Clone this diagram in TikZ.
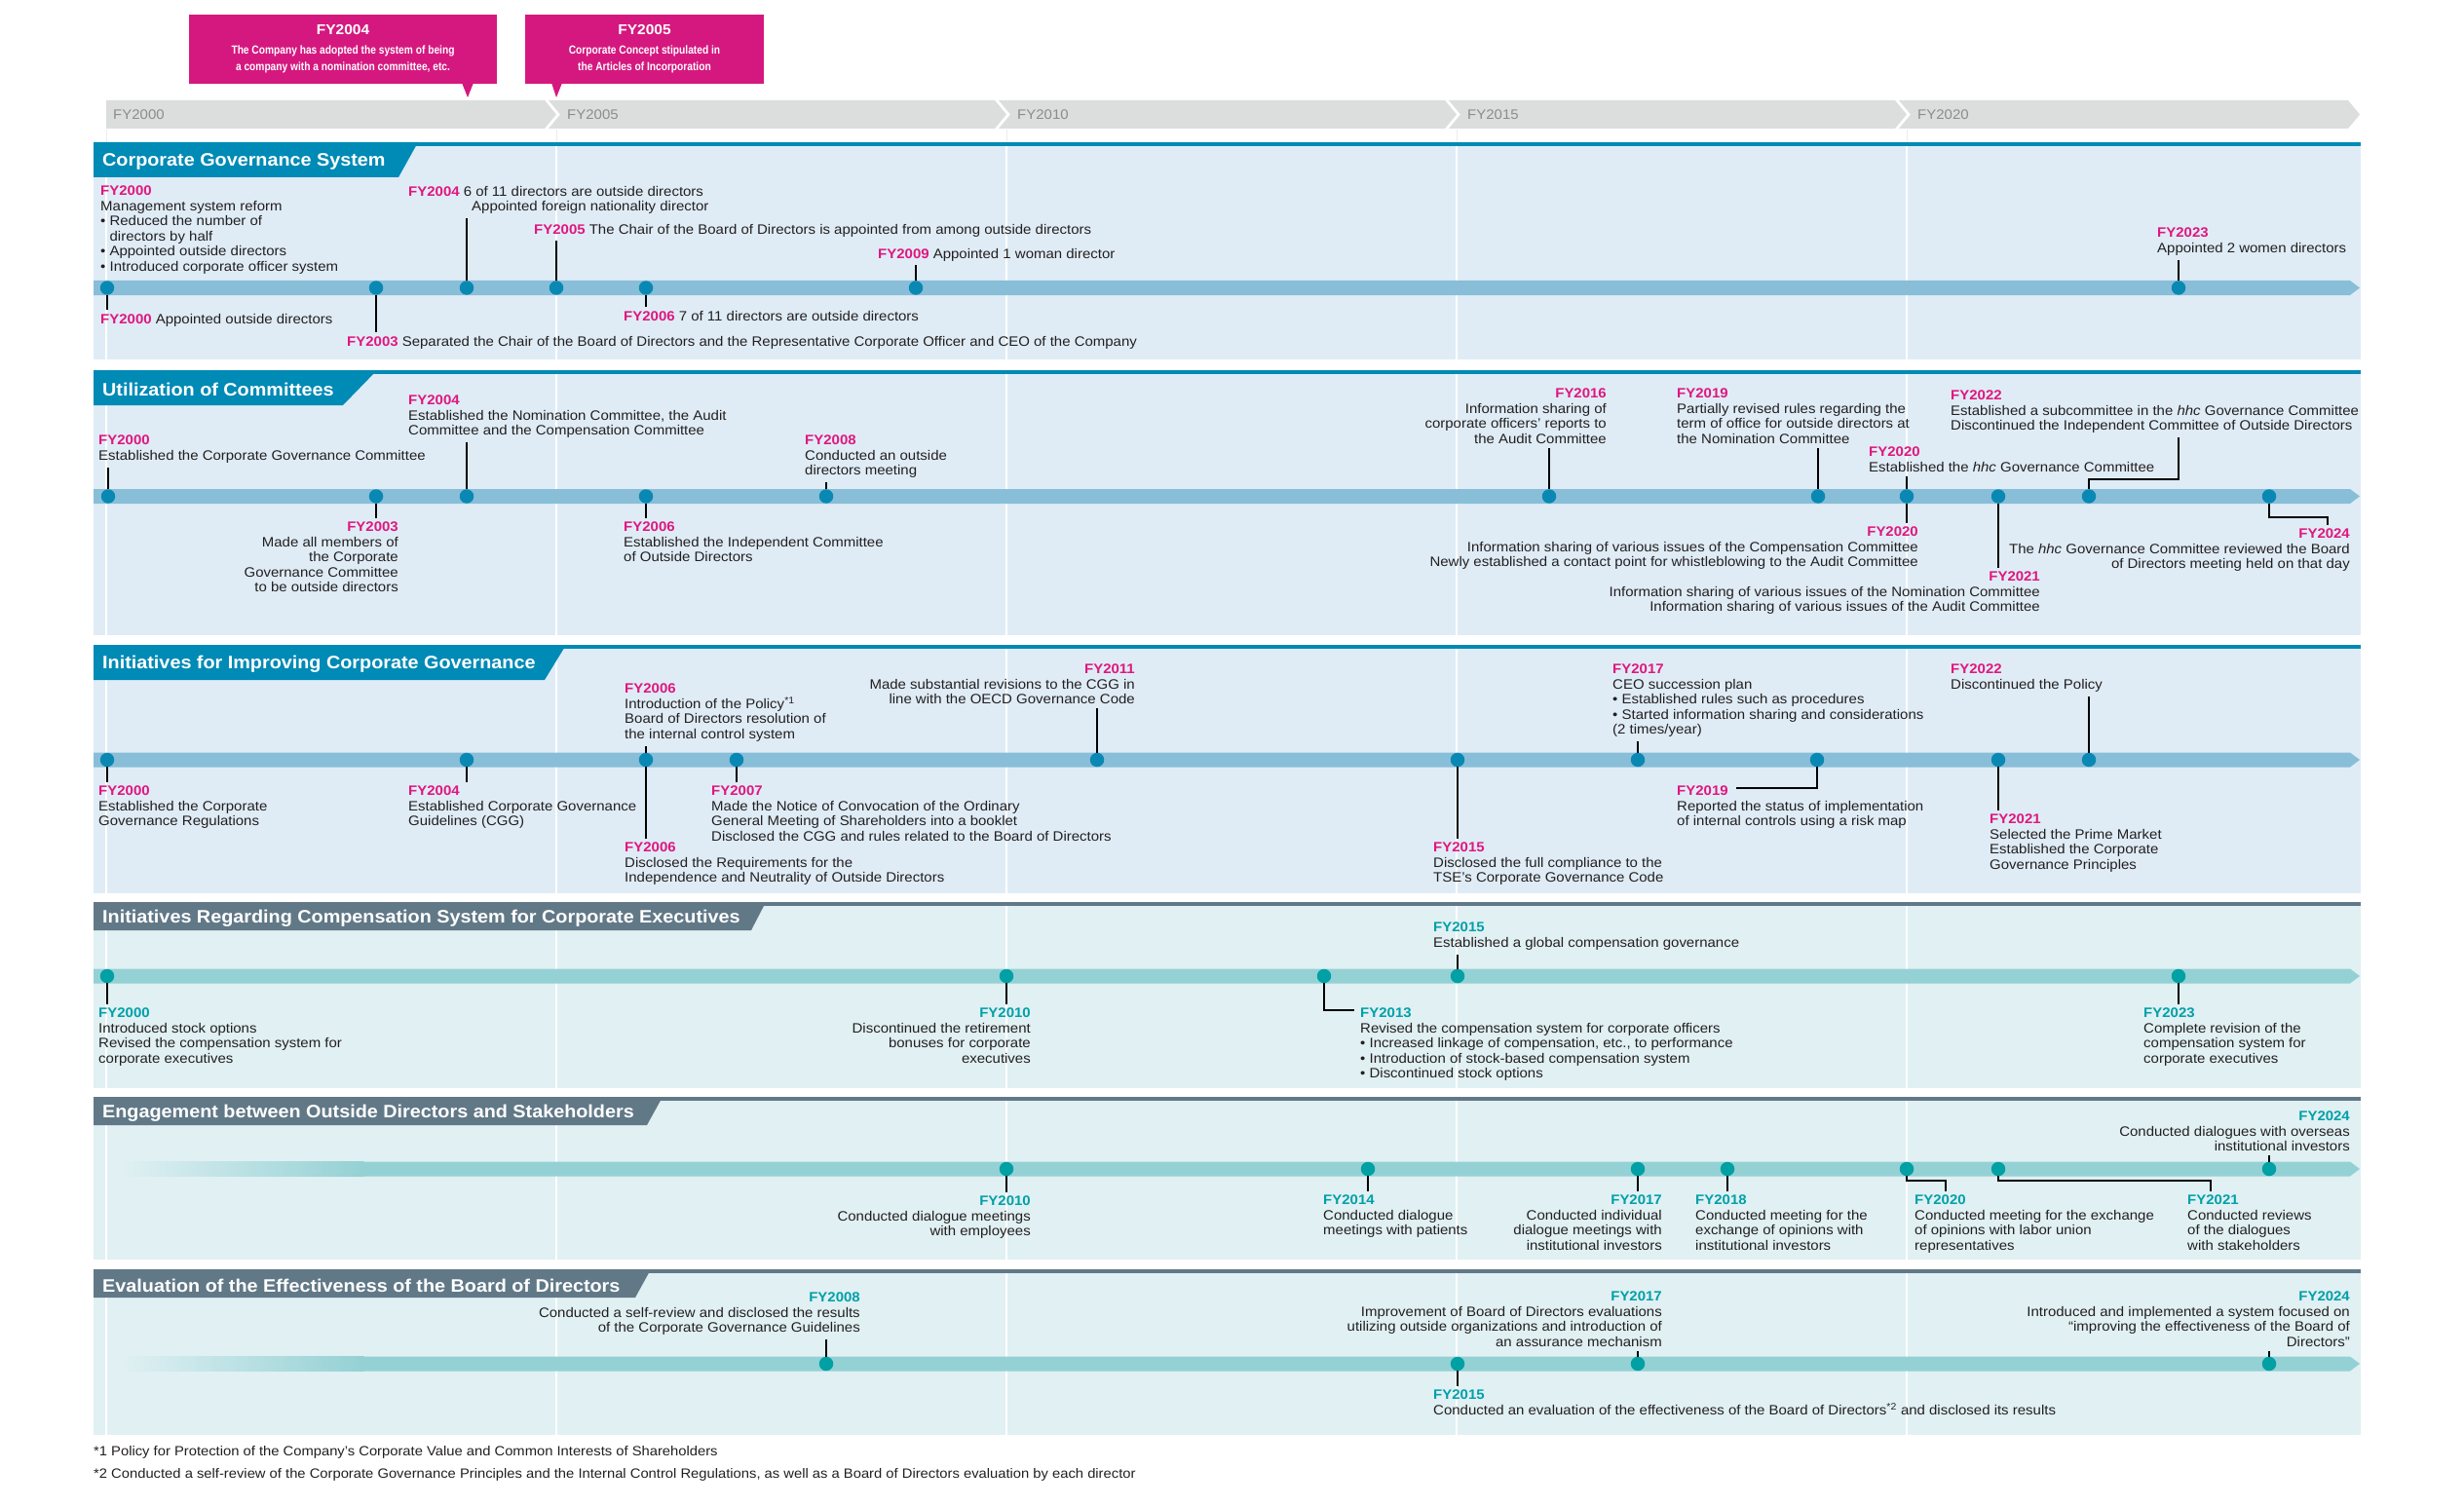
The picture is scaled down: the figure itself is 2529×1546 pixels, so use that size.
\documentclass[tikz,border=0pt]{standalone}
\usepackage{fontspec}
\setmainfont{Liberation Sans}[FakeStretch=1.07]
\newfontfamily\condfont[FakeStretch=0.85]{Liberation Sans}

\definecolor{fymag}{HTML}{E0177F}
\definecolor{callmag}{HTML}{D5187F}
\definecolor{hdblue}{HTML}{008AB6}
\definecolor{bgblue}{HTML}{DFECF6}
\definecolor{barblue}{HTML}{88BED8}
\definecolor{dotblue}{HTML}{0A88B4}
\definecolor{hdslate}{HTML}{617887}
\definecolor{bgteal}{HTML}{E0F0F3}
\definecolor{barteal}{HTML}{94D1D4}
\definecolor{dotteal}{HTML}{00A0A4}
\definecolor{fyteal}{HTML}{00A0A8}
\definecolor{yrgray}{HTML}{DCDDDD}
\definecolor{yrtext}{HTML}{8C8C8C}
\definecolor{txt}{HTML}{231F20}

\newcommand{\fy}[1]{\textcolor{fymag}{\bfseries #1}}
\newcommand{\fyt}[1]{\textcolor{fyteal}{\bfseries #1}}

\tikzset{
    dotb/.style={circle, fill=dotblue, inner sep=0pt, minimum size=14.5pt},
    dott/.style={circle, fill=dotteal, inner sep=0pt, minimum size=14.5pt},
    evl/.style={inner sep=0pt, anchor=north west, align=left, text=txt, font=\fontsize{14}{15.5}\selectfont},
    evr/.style={evl, anchor=north east, align=right},
    foot/.style={evl, font=\fontsize{13.8}{15}\selectfont},
    lnk/.style={line width=1.2pt, shorten >=4pt},
    ttl/.style={anchor=west, inner sep=0pt, text=white},
    yrlbl/.style={anchor=west, inner sep=0pt, text=yrtext, font=\fontsize{14}{16}\selectfont},
    callout/.style={fill=callmag, text=white, inner sep=0pt, align=center, minimum height=71pt,
                    font=\condfont\bfseries\fontsize{12}{17}\selectfont}
}

\begin{document}
\begin{tikzpicture}
  [
    x                       = 1pt,
    y                       = -1pt,
  ]
  \useasboundingbox (0,0) rectangle (2529,1546);

  % callouts on top
  \node [callout, minimum width=316pt] (co04) at (352,50.5)
    {\rmfamily\bfseries\fontsize{14.5}{16}\selectfont FY2004\\[3pt]The Company has adopted the system of being\\a company with a nomination committee, etc.};
  \node [callout, minimum width=245pt] (co05) at (661.5,50.5)
    {\rmfamily\bfseries\fontsize{14.5}{16}\selectfont FY2005\\[3pt]Corporate Concept stipulated in\\the Articles of Incorporation};
  \fill [callmag] (474,85) -- (486,85) -- (480,100) -- cycle;
  \fill [callmag] (566,85) -- (577,85) -- (571,100) -- cycle;

  % year bar
  \foreach \xl/\xm/\xe/\yr in {109/109/571/2000, 563/575/1033/2005, 1025/1037/1495/2010, 1487/1499/1957/2015, 1949/1961/2422/2020} {
    \fill [yrgray] (\xl,103) -- (\xe-12,103) -- (\xe,117.5) -- (\xe-12,132) -- (\xl,132) -- (\xm,117.5) -- cycle;
    \node [yrlbl] (yr\yr) at (\xm+7,118) {FY\yr};
  }
  \foreach \gx in {109,571,1033,1495,1957}
    \draw [gray!15, line width=1pt] (\gx,133) -- (\gx,146);

  % panels
  \foreach \yt/\ytb/\yb/\xa/\xb/\hd/\bg/\nm/\tsz/\ttl in {
      146/182/369/429/409/hdblue/bgblue/cgs/18.5/Corporate Governance System,
      380/416/652/387/352/hdblue/bgblue/uoc/18.5/Utilization of Committees,
      662/698/917/581/559/hdblue/bgblue/icg/18.5/Initiatives for Improving Corporate Governance,
      926/955/1117/786/771/hdslate/bgteal/rcs/18.5/Initiatives Regarding Compensation System for Corporate Executives,
      1126/1155/1293/680/664/hdslate/bgteal/eod/18.5/Engagement between Outside Directors and Stakeholders,
      1303/1332/1473/668/652/hdslate/bgteal/ebd/18.5/Evaluation of the Effectiveness of the Board of Directors} {
    \fill [\bg] (96,\yt) rectangle (2423,\yb);
    \foreach \gx in {109,571,1033,1495,1957}
      \draw [white, line width=1.2pt] (\gx,\yt) -- (\gx,\yb);
    \fill [\hd] (96,\yt) rectangle (2423,\yt+4);
    \fill [\hd] (96,\yt) -- (\xa,\yt) -- (\xb,\ytb) -- (96,\ytb) -- cycle;
    \node [ttl, font=\fontsize{\tsz}{20}\selectfont\bfseries] (ttl\nm) at (105,{(\yt+4+\ytb)/2}) {\ttl};
  }

  % timelines
  \foreach \c/\xo/\cl in {295.5/96/barblue, 509.5/96/barblue, 780/96/barblue, 1002/96/barteal, 1200/373/barteal, 1400/373/barteal}
    \fill [\cl] (\xo,\c-7.5) -- (2412,\c-7.5) -- (2422,\c) -- (2412,\c+7.5) -- (\xo,\c+7.5) -- cycle;
  \shade [left color=bgteal, right color=barteal] (126,1192.5) rectangle (373.5,1207.5);
  \shade [left color=bgteal, right color=barteal] (126,1392.5) rectangle (373.5,1407.5);

  % Corporate Governance System
  \foreach \n/\x in {00/110,03/386,04/479,05/571,06/663,09/940,23/2236}
    \node [dotb] (a\n) at (\x,295.5) {};
  \node [evl] (a00u) at (103,191) {\fy{FY2000}\\Management system reform\\• Reduced the number of\\\phantom{• }directors by half\\• Appointed outside directors\\• Introduced corporate officer system};
  \node [evl] (a00d) at (103,322) {\fy{FY2000} Appointed outside directors};
  \node [evl] (a03d) at (356,345) {\fy{FY2003} Separated the Chair of the Board of Directors and the Representative Corporate Officer and CEO of the Company};
  \node [evl] (a04u) at (419,191) {\fy{FY2004} 6 of 11 directors are outside directors\\\hspace*{65pt}Appointed foreign nationality director};
  \node [evl] (a05u) at (548,230) {\fy{FY2005} The Chair of the Board of Directors is appointed from among outside directors};
  \node [evl] (a06d) at (640,319) {\fy{FY2006} 7 of 11 directors are outside directors};
  \node [evl] (a09u) at (901,255) {\fy{FY2009} Appointed 1 woman director};
  \node [evl] (a23u) at (2214,234) {\fy{FY2023}\\Appointed 2 women directors};
  \draw [lnk] (a00) -- (a00 |- a00d.north);
  \draw [lnk] (a03) -- (a03 |- a03d.north);
  \draw [lnk] (a04) -- (a04 |- a04u.south);
  \draw [lnk] (a05) -- (a05 |- a05u.south);
  \draw [lnk] (a06) -- (a06 |- a06d.north);
  \draw [lnk] (a09) -- (a09 |- a09u.south);
  \draw [lnk] (a23) -- (a23 |- a23u.south);

  % Utilization of Committees
  \foreach \n/\x in {00/111,03/386,04/479,06/663,08/848,16/1590,19/1866,20/1957,21/2051,22/2144,24/2329}
    \node [dotb] (b\n) at (\x,509.5) {};
  \node [evl] (b00u) at (101,447) {\fy{FY2000}\\Established the Corporate Governance Committee};
  \node [evl] (b04u) at (419,406) {\fy{FY2004}\\Established the Nomination Committee, the Audit\\Committee and the Compensation Committee};
  \node [evl] (b08u) at (826,447) {\fy{FY2008}\\Conducted an outside\\directors meeting};
  \node [evr] (b03d) at (409,536) {\fy{FY2003}\\Made all members of\\the Corporate\\Governance Committee\\to be outside directors};
  \node [evl] (b06d) at (640,536) {\fy{FY2006}\\Established the Independent Committee\\of Outside Directors};
  \node [evr] (b16u) at (1649,399) {\fy{FY2016}\\Information sharing of\\corporate officers' reports to\\the Audit Committee};
  \node [evl] (b19u) at (1721,399) {\fy{FY2019}\\Partially revised rules regarding the\\term of office for outside directors at\\the Nomination Committee};
  \node [evl] (b20u) at (1918,459) {\fy{FY2020}\\Established the \textit{hhc} Governance Committee};
  \node [evl] (b22u) at (2002,401) {\fy{FY2022}\\Established a subcommittee in the \textit{hhc} Governance Committee\\Discontinued the Independent Committee of Outside Directors};
  \node [evr] (b20d) at (1969,541) {\fy{FY2020}\\Information sharing of various issues of the Compensation Committee\\Newly established a contact point for whistleblowing to the Audit Committee};
  \node [evr] (b21d) at (2094,587) {\fy{FY2021}\\Information sharing of various issues of the Nomination Committee\\Information sharing of various issues of the Audit Committee};
  \node [evr] (b24d) at (2412,543) {\fy{FY2024}\\The \textit{hhc} Governance Committee reviewed the Board\\of Directors meeting held on that day};
  \coordinate (b22k) at (2236,492);
  \coordinate (b24k) at (2389,531);
  \draw [lnk] (b00) -- (b00 |- b00u.south);
  \draw [lnk] (b04) -- (b04 |- b04u.south);
  \draw [lnk] (b08) -- (b08 |- b08u.south);
  \draw [lnk] (b03) -- (b03 |- b03d.north);
  \draw [lnk] (b06) -- (b06 |- b06d.north);
  \draw [lnk] (b16) -- (b16 |- b16u.south);
  \draw [lnk] (b19) -- (b19 |- b19u.south);
  \draw [lnk] (b20) -- (b20 |- b20u.south);
  \draw [lnk] (b20) -- (b20 |- b20d.north);
  \draw [lnk] (b21) -- (b21 |- b21d.north);
  \draw [lnk] (b22) |- (b22k) -- (b22k |- b22u.south);
  \draw [lnk] (b24) |- (b24k) -- (b24k |- b24d.north);

  % Initiatives for Improving Corporate Governance
  \foreach \n/\x in {00/110,04/479,06/663,07/756,11/1126,15/1496,17/1681,19/1865,21/2051,22/2144}
    \node [dotb] (c\n) at (\x,780) {};
  \node [evl] (c00d) at (101,807) {\fy{FY2000}\\Established the Corporate\\Governance Regulations};
  \node [evl] (c04d) at (419,807) {\fy{FY2004}\\Established Corporate Governance\\Guidelines (CGG)};
  \node [evl] (c06u) at (641,702) {\fy{FY2006}\\Introduction of the Policy\textsuperscript{*1}\\Board of Directors resolution of\\the internal control system};
  \node [evl] (c06d) at (641,865) {\fy{FY2006}\\Disclosed the Requirements for the\\Independence and Neutrality of Outside Directors};
  \node [evl] (c07d) at (730,807) {\fy{FY2007}\\Made the Notice of Convocation of the Ordinary\\General Meeting of Shareholders into a booklet\\Disclosed the CGG and rules related to the Board of Directors};
  \node [evr] (c11u) at (1165,682) {\fy{FY2011}\\Made substantial revisions to the CGG in\\line with the OECD Governance Code};
  \node [evl] (c15d) at (1471,865) {\fy{FY2015}\\Disclosed the full compliance to the\\TSE's Corporate Governance Code};
  \node [evl] (c17u) at (1655,682) {\fy{FY2017}\\CEO succession plan\\• Established rules such as procedures\\• Started information sharing and considerations\\(2 times/year)};
  \node [evl] (c19d) at (1721,807) {\fy{FY2019}\\Reported the status of implementation\\of internal controls using a risk map};
  \node [evl] (c21d) at (2042,836) {\fy{FY2021}\\Selected the Prime Market\\Established the Corporate\\Governance Principles};
  \node [evl] (c22u) at (2002,682) {\fy{FY2022}\\Discontinued the Policy};
  \coordinate (c19k) at (1782,809);
  \draw [lnk] (c00) -- (c00 |- c00d.north);
  \draw [lnk] (c04) -- (c04 |- c04d.north);
  \draw [lnk] (c06) -- (c06 |- c06u.south);
  \draw [lnk] (c06) -- (c06 |- c06d.north);
  \draw [lnk] (c07) -- (c07 |- c07d.north);
  \draw [lnk] (c11) -- (c11 |- c11u.south);
  \draw [lnk] (c15) -- (c15 |- c15d.north);
  \draw [lnk] (c17) -- (c17 |- c17u.south);
  \draw [lnk, shorten >=0pt] (c19) |- (c19k);
  \draw [lnk] (c21) -- (c21 |- c21d.north);
  \draw [lnk] (c22) -- (c22 |- c22u.south);

  % Compensation System for Corporate Executives
  \foreach \n/\x in {00/110,10/1033,13/1359,15/1496,23/2236}
    \node [dott] (d\n) at (\x,1002) {};
  \node [evl] (d00d) at (101,1035) {\fyt{FY2000}\\Introduced stock options\\Revised the compensation system for\\corporate executives};
  \node [evr] (d10d) at (1058,1035) {\fyt{FY2010}\\Discontinued the retirement\\bonuses for corporate\\executives};
  \node [evl] (d13d) at (1396,1035) {\fyt{FY2013}\\Revised the compensation system for corporate officers\\• Increased linkage of compensation, etc., to performance\\• Introduction of stock-based compensation system\\• Discontinued stock options};
  \node [evl] (d15u) at (1471,947) {\fyt{FY2015}\\Established a global compensation governance};
  \node [evl] (d23d) at (2200,1035) {\fyt{FY2023}\\Complete revision of the\\compensation system for\\corporate executives};
  \coordinate (d13k) at (1390,1037);
  \draw [lnk] (d00) -- (d00 |- d00d.north);
  \draw [lnk] (d10) -- (d10 |- d10d.north);
  \draw [lnk, shorten >=0pt] (d13) |- (d13k);
  \draw [lnk] (d15) -- (d15 |- d15u.south);
  \draw [lnk] (d23) -- (d23 |- d23d.north);

  % Engagement between Outside Directors and Stakeholders
  \foreach \n/\x in {10/1033,14/1404,17/1681,18/1773,20/1957,21/2051,24/2329}
    \node [dott] (e\n) at (\x,1200) {};
  \node [evr] (e10d) at (1058,1228) {\fyt{FY2010}\\Conducted dialogue meetings\\with employees};
  \node [evl] (e14d) at (1358,1227) {\fyt{FY2014}\\Conducted dialogue\\meetings with patients};
  \node [evr] (e17d) at (1706,1227) {\fyt{FY2017}\\Conducted individual\\dialogue meetings with\\institutional investors};
  \node [evl] (e18d) at (1740,1227) {\fyt{FY2018}\\Conducted meeting for the\\exchange of opinions with\\institutional investors};
  \node [evl] (e20d) at (1965,1227) {\fyt{FY2020}\\Conducted meeting for the exchange\\of opinions with labor union\\representatives};
  \node [evl] (e21d) at (2245,1227) {\fyt{FY2021}\\Conducted reviews\\of the dialogues\\with stakeholders};
  \node [evr] (e24u) at (2412,1141) {\fyt{FY2024}\\Conducted dialogues with overseas\\institutional investors};
  \coordinate (e20k) at (1997,1212);
  \coordinate (e21k) at (2269,1212);
  \draw [lnk] (e10) -- (e10 |- e10d.north);
  \draw [lnk] (e14) -- (e14 |- e14d.north);
  \draw [lnk] (e17) -- (e17 |- e17d.north);
  \draw [lnk] (e18) -- (e18 |- e18d.north);
  \draw [lnk] (e20) |- (e20k) -- (e20k |- e20d.north);
  \draw [lnk] (e21) |- (e21k) -- (e21k |- e21d.north);
  \draw [lnk] (e24) -- (e24 |- e24u.south);

  % Evaluation of the Effectiveness of the Board of Directors
  \foreach \n/\x in {08/848,15/1496,17/1681,24/2329}
    \node [dott] (f\n) at (\x,1400) {};
  \node [evr] (f08u) at (883,1327) {\fyt{FY2008}\\Conducted a self-review and disclosed the results\\of the Corporate Governance Guidelines};
  \node [evl] (f15d) at (1471,1427) {\fyt{FY2015}\\Conducted an evaluation of the effectiveness of the Board of Directors\textsuperscript{*2} and disclosed its results};
  \node [evr] (f17u) at (1706,1326) {\fyt{FY2017}\\Improvement of Board of Directors evaluations\\utilizing outside organizations and introduction of\\an assurance mechanism};
  \node [evr] (f24u) at (2412,1326) {\fyt{FY2024}\\Introduced and implemented a system focused on\\“improving the effectiveness of the Board of\\Directors”};
  \draw [lnk] (f08) -- (f08 |- f08u.south);
  \draw [lnk] (f15) -- (f15 |- f15d.north);
  \draw [lnk] (f17) -- (f17 |- f17u.south);
  \draw [lnk] (f24) -- (f24 |- f24u.south);

  % footnotes
  \node [foot] (fn1) at (96,1484) {*1 Policy for Protection of the Company's Corporate Value and Common Interests of Shareholders};
  \node [foot] (fn2) at (96,1507) {*2 Conducted a self-review of the Corporate Governance Principles and the Internal Control Regulations, as well as a Board of Directors evaluation by each director};
\end{tikzpicture}
\end{document}
